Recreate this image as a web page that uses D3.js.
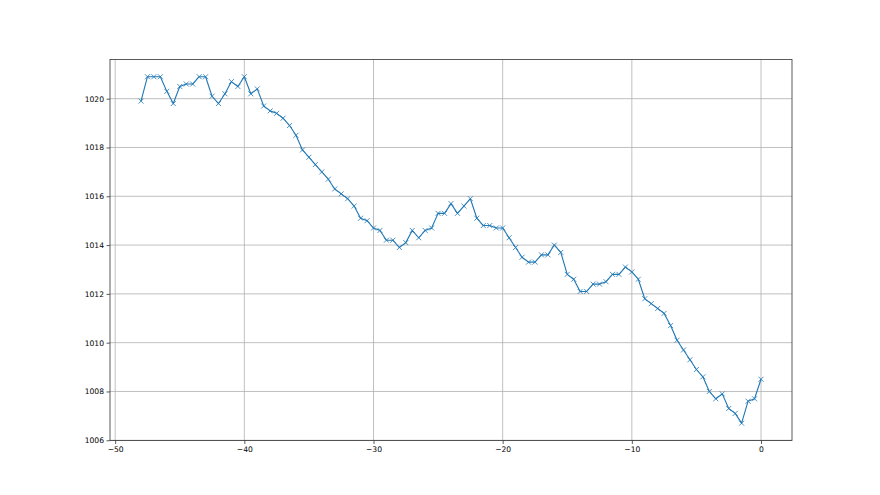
<!DOCTYPE html>
<html>
<head>
<meta charset="utf-8">
<script src="https://cdn.jsdelivr.net/npm/d3@7"></script>
<style>
  body { margin: 0; background: #fff; }
  svg { display: block; }
  .tick text { font-family: "DejaVu Sans", sans-serif; font-size: 7.6px; fill: #000; }
</style>
</head>
<body>
<div id="container"></div>
<script>
// x positions: -48 .. 0, every half unit
const xValues = [
    -48, -47.5, -47, -46.5, -46, -45.5, -45, -44.5, -44, -43.5,
    -43, -42.5, -42, -41.5, -41, -40.5, -40, -39.5, -39, -38.5,
    -38, -37.5, -37, -36.5, -36, -35.5, -35, -34.5, -34, -33.5,
    -33, -32.5, -32, -31.5, -31, -30.5, -30, -29.5, -29, -28.5,
    -28, -27.5, -27, -26.5, -26, -25.5, -25, -24.5, -24, -23.5,
    -23, -22.5, -22, -21.5, -21, -20.5, -20, -19.5, -19, -18.5,
    -18, -17.5, -17, -16.5, -16, -15.5, -15, -14.5, -14, -13.5,
    -13, -12.5, -12, -11.5, -11, -10.5, -10, -9.5, -9, -8.5,
    -8, -7.5, -7, -6.5, -6, -5.5, -5, -4.5, -4, -3.5,
    -3, -2.5, -2, -1.5, -1, -0.5, 0
];

const pressure = [
    1019.9, 1020.9, 1020.9, 1020.9, 1020.3, 1019.8, 1020.5, 1020.6, 1020.6, 1020.9,
    1020.9, 1020.1, 1019.8, 1020.2, 1020.7, 1020.5, 1020.9, 1020.2, 1020.4, 1019.7,
    1019.5, 1019.4, 1019.2, 1018.9, 1018.5, 1017.9, 1017.6, 1017.3, 1017.0, 1016.7,
    1016.3, 1016.1, 1015.9, 1015.6, 1015.1, 1015.0, 1014.7, 1014.6, 1014.2, 1014.2,
    1013.9, 1014.1, 1014.6, 1014.3, 1014.6, 1014.7, 1015.3, 1015.3, 1015.7, 1015.3,
    1015.6, 1015.9, 1015.1, 1014.8, 1014.8, 1014.7, 1014.7, 1014.3, 1013.9, 1013.5,
    1013.3, 1013.3, 1013.6, 1013.6, 1014.0, 1013.7, 1012.8, 1012.6, 1012.1, 1012.1,
    1012.4, 1012.4, 1012.5, 1012.8, 1012.8, 1013.1, 1012.9, 1012.6, 1011.8, 1011.6,
    1011.4, 1011.2, 1010.7, 1010.1, 1009.7, 1009.3, 1008.9, 1008.6, 1008.0, 1007.7,
    1007.9, 1007.3, 1007.1, 1006.7, 1007.6, 1007.7, 1008.5
];

const xTicks = [-50, -40, -30, -20, -10, 0];
const yTicks = [1006, 1008, 1010, 1012, 1014, 1016, 1018, 1020];

const W = 880, H = 495;
const margin = { top: 59.4, right: 88, bottom: 54.5, left: 110 };
const width = W - margin.left - margin.right;
const height = H - margin.top - margin.bottom;

const data = xValues.map((x, i) => ({ x: x, y: pressure[i] }));

const svg = d3.select("#container")
    .append("svg")
    .attr("width", W)
    .attr("height", H);

const g = svg.append("g")
    .attr("transform", `translate(${margin.left},${margin.top})`);

// matplotlib-like 5% margins
const xMin = d3.min(xValues), xMax = d3.max(xValues);
const yMin = d3.min(pressure), yMax = d3.max(pressure);
const xPad = (xMax - xMin) * 0.05, yPad = (yMax - yMin) * 0.05;

const xScale = d3.scaleLinear()
    .domain([xMin - xPad, xMax + xPad])
    .range([0, width]);

const yScale = d3.scaleLinear()
    .domain([yMin - yPad, yMax + yPad])
    .range([height, 0]);

// grid
g.append("g")
    .selectAll("line")
    .data(xTicks)
    .enter()
    .append("line")
    .attr("x1", d => xScale(d)).attr("x2", d => xScale(d))
    .attr("y1", 0).attr("y2", height)
    .attr("stroke", "#b0b0b0").attr("stroke-width", 0.8);

g.append("g")
    .selectAll("line")
    .data(yTicks)
    .enter()
    .append("line")
    .attr("x1", 0).attr("x2", width)
    .attr("y1", d => yScale(d)).attr("y2", d => yScale(d))
    .attr("stroke", "#b0b0b0").attr("stroke-width", 0.8);

const fmtX = d => d < 0 ? "\u2212" + Math.abs(d) : String(d);

const xAxis = d3.axisBottom(xScale)
    .tickValues(xTicks)
    .tickFormat(fmtX)
    .tickSizeInner(3.5)
    .tickSizeOuter(0)
    .tickPadding(2.5);

const yAxis = d3.axisLeft(yScale)
    .tickValues(yTicks)
    .tickFormat(d3.format("d"))
    .tickSizeInner(3.5)
    .tickSizeOuter(0)
    .tickPadding(2.5);

const gx = g.append("g")
    .attr("transform", `translate(0,${height})`)
    .call(xAxis);
const gy = g.append("g").call(yAxis);

[gx, gy].forEach(a => {
    a.select(".domain").remove();
    a.selectAll(".tick line").attr("stroke", "#333").attr("stroke-width", 0.8);
});

// line
const line = d3.line()
    .x(d => xScale(d.x))
    .y(d => yScale(d.y));

g.append("path")
    .datum(data)
    .attr("fill", "none")
    .attr("stroke", "#1f77b4")
    .attr("stroke-width", 1.1)
    .attr("stroke-linejoin", "round")
    .attr("d", line);

// x markers
const s = 2.5;
g.append("g")
    .selectAll("path")
    .data(data)
    .enter()
    .append("path")
    .attr("transform", d => `translate(${xScale(d.x)},${yScale(d.y)})`)
    .attr("d", `M${-s},${-s}L${s},${s}M${-s},${s}L${s},${-s}`)
    .attr("stroke", "#1f77b4")
    .attr("stroke-width", 0.8)
    .attr("fill", "none");

// frame
g.append("rect")
    .attr("x", 0).attr("y", 0)
    .attr("width", width).attr("height", height)
    .attr("fill", "none")
    .attr("stroke", "#333")
    .attr("stroke-width", 0.8);
</script>
</body>
</html>
